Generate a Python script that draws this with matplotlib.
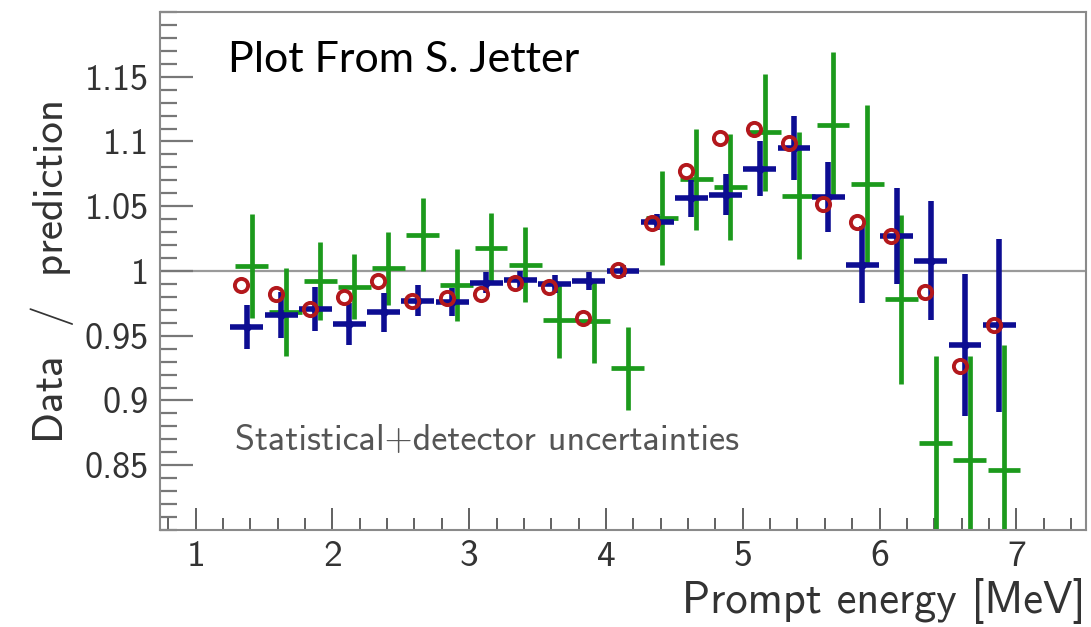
import matplotlib
matplotlib.use('Agg')
import matplotlib.pyplot as plt
from matplotlib.ticker import MultipleLocator
import numpy as np

# bin centres [MeV]
energy = [1.375, 1.625, 1.875, 2.125, 2.375, 2.625, 2.875, 3.125, 3.375, 3.625,
          3.875, 4.125, 4.375, 4.625, 4.875, 5.125, 5.375, 5.625, 5.875, 6.125,
          6.375, 6.625, 6.875]

# blue crosses
blue = [0.957, 0.966, 0.971, 0.959, 0.968, 0.977, 0.976, 0.991, 0.993, 0.990,
        0.992, 1.000, 1.038, 1.056, 1.059, 1.079, 1.095, 1.057, 1.005, 1.027,
        1.008, 0.943, 0.958]
blue_err = [0.017, 0.018, 0.017, 0.016, 0.015, 0.012, 0.011, 0.008, 0.007, 0.007,
            0.007, 0.005, 0.006, 0.014, 0.016, 0.021, 0.025, 0.027, 0.030, 0.037,
            0.046, 0.055, 0.067]

# red open circles
red = [0.9895, 0.9825, 0.971, 0.980, 0.992, 0.977, 0.979, 0.982, 0.991, 0.988,
       0.964, 1.001, 1.037, 1.077, 1.103, 1.110, 1.099, 1.052, 1.038, 1.027,
       0.984, 0.927, 0.958]

# green crosses
green = [1.004, 0.968, 0.992, 0.988, 1.002, 1.028, 0.989, 1.018, 1.005, 0.962,
         0.961, 0.925, 1.041, 1.071, 1.065, 1.107, 1.058, 1.113, 1.067, 0.978,
         0.867, 0.854, 0.846]
green_err = [0.040, 0.034, 0.030, 0.025, 0.028, 0.028, 0.028, 0.027, 0.029, 0.029,
             0.032, 0.032, 0.036, 0.039, 0.041, 0.045, 0.049, 0.056, 0.061, 0.065,
             0.067, 0.080, 0.097]

xticks = [1, 2, 3, 4, 5, 6, 7]
yticks = [0.85, 0.9, 0.95, 1.0, 1.05, 1.1, 1.15]
ytick_labels = ['0.85', '0.9', '0.95', '1', '1.05', '1.1', '1.15']

E = np.array(energy)

fig = plt.figure(figsize=(10.91, 6.27), dpi=100)
ax = fig.add_axes([0.1467, 0.1547, 0.8488, 0.8262])

ax.axhline(1.0, color='#9a9a9a', lw=1.6, zorder=1)

ax.errorbar(E + 0.035, green, yerr=green_err, xerr=0.12, fmt='none',
            ecolor='#1c9a1c', elinewidth=3.4, capsize=0, zorder=2)
ax.errorbar(E, blue, yerr=blue_err, xerr=0.12, fmt='o', ms=5,
            color='#0d0d92', ecolor='#0d0d92', elinewidth=4.0, capsize=0, zorder=3)
ax.plot(E - 0.04, red, 'o', ms=9.5, mfc='none', mec='#b3181c', mew=2.8, zorder=4)

ax.set_xlim(0.74, 7.51)
ax.set_ylim(0.80, 1.20)

ax.set_xticks(xticks)
ax.set_xticklabels([str(t) for t in xticks], family='cmss10', fontsize=27, color='#333333')
ax.set_yticks(yticks)
ax.set_yticklabels(ytick_labels, family='cmss10', fontsize=26, color='#333333')
ax.xaxis.set_minor_locator(MultipleLocator(0.2))
ax.yaxis.set_minor_locator(MultipleLocator(0.01))

ax.tick_params(axis='x', which='major', direction='in', length=16, width=1.3,
               color='#555555', pad=7, top=False)
ax.tick_params(axis='x', which='minor', direction='in', length=8.5, width=1.3,
               color='#555555', top=False)
ax.tick_params(axis='y', which='major', direction='in', length=24, width=1.6,
               color='#777777', pad=8, right=False)
ax.tick_params(axis='y', which='minor', direction='in', length=12, width=1.6,
               color='#777777', right=False)

for s in ax.spines.values():
    s.set_color('#8a8a8a')
    s.set_linewidth(1.5)

ax.set_ylabel('Data  /  prediction', family='cmss10', fontsize=31, color='#333333',
              labelpad=8)
fig.text(0.995, 0.042, 'Prompt energy [MeV]', family='cmss10', fontsize=32,
         color='#333333', ha='right', va='center')

ax.text(0.081, 0.172, 'Statistical+detector uncertainties', transform=ax.transAxes,
        family='cmss10', fontsize=26, color='#555555', va='center', ha='left')
fig.text(0.209, 0.905, 'Plot From S. Jetter', family='Lato', fontsize=31,
         color='black', va='center', ha='left')

fig.savefig('out.png', dpi=100, facecolor='white')
